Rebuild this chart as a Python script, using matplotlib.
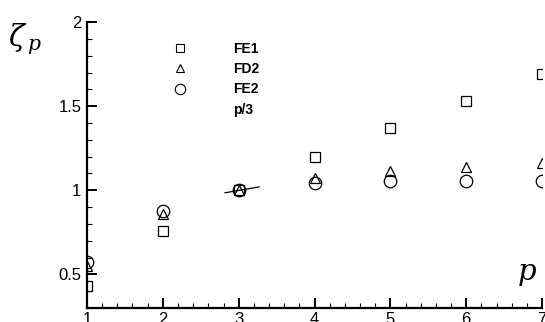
import matplotlib
matplotlib.use("Agg")
import matplotlib.pyplot as plt
from matplotlib.ticker import MultipleLocator
from matplotlib.lines import Line2D

# values
p = [1, 2, 3, 4, 5, 6, 7]
fe1 = [0.43, 0.76, 1.0, 1.195, 1.37, 1.53, 1.69]
fd2 = [0.55, 0.86, 1.0, 1.075, 1.115, 1.14, 1.16]
fe2 = [0.575, 0.875, 1.0, 1.045, 1.053, 1.053, 1.053]
# the p/3 curve only shows as a short stroke near p=3
p3_x = [2.82, 3.27]
p3_y = [0.985, 1.02]

plt.rcParams['font.family'] = ['Liberation Sans', 'DejaVu Sans']
plt.rcParams['mathtext.fontset'] = 'dejavuserif'

fig = plt.figure(figsize=(5.45, 3.22), dpi=100)
ax = fig.add_axes([0.1596, 0.0435, 0.835, 0.888])

ax.plot(p, fe1, linestyle='none', marker='s', ms=6.5, mfc='white', mec='black', mew=0.9)
ax.plot(p, fd2, linestyle='none', marker='^', ms=7, mfc='white', mec='black', mew=0.9)
ax.plot(p, fe2, linestyle='none', marker='o', ms=9, mfc='none', mec='black', mew=0.9)
ax.plot(p3_x, p3_y, color='black', lw=0.9)

ax.set_xlim(1, 7)
ax.set_ylim(0.3, 2)
for s in ['top', 'right']:
    ax.spines[s].set_visible(False)
for s in ['left', 'bottom']:
    ax.spines[s].set_linewidth(1.6)

ax.xaxis.set_major_locator(MultipleLocator(1))
ax.xaxis.set_minor_locator(MultipleLocator(0.2))
ax.yaxis.set_major_locator(MultipleLocator(0.5))
ax.yaxis.set_minor_locator(MultipleLocator(0.1))
ax.tick_params(which='major', direction='in', length=7, width=1.4, labelsize=12)
ax.tick_params(which='minor', direction='in', length=3.5, width=0.8)
ax.tick_params(axis='y', pad=4)
ax.tick_params(axis='x', pad=3)
ax.set_yticks([0.5, 1, 1.5, 2])
ax.set_yticklabels(['0.5', '1', '1.5', '2'])

handles = [
    Line2D([], [], linestyle='none', marker='s', ms=5.5, mfc='white', mec='black', mew=0.8),
    Line2D([], [], linestyle='none', marker='^', ms=5.5, mfc='white', mec='black', mew=0.8),
    Line2D([], [], linestyle='none', marker='o', ms=7.5, mfc='white', mec='black', mew=0.8),
    Line2D([], [], linestyle='none'),
]
leg = ax.legend(handles, ['FE1', 'FD2', 'FE2', 'p/3'], loc='upper left',
                bbox_to_anchor=(0.174, 0.955), frameon=False, handletextpad=3.3,
                labelspacing=0.45, prop={'weight': 'bold', 'size': 10},
                handlelength=1.0, borderpad=0)

fig.text(0.015, 0.855, r'$\zeta_{\,p}$', fontsize=21)
fig.text(0.948, 0.13, r'$p$', fontsize=21)

fig.savefig('out.png', dpi=100)
